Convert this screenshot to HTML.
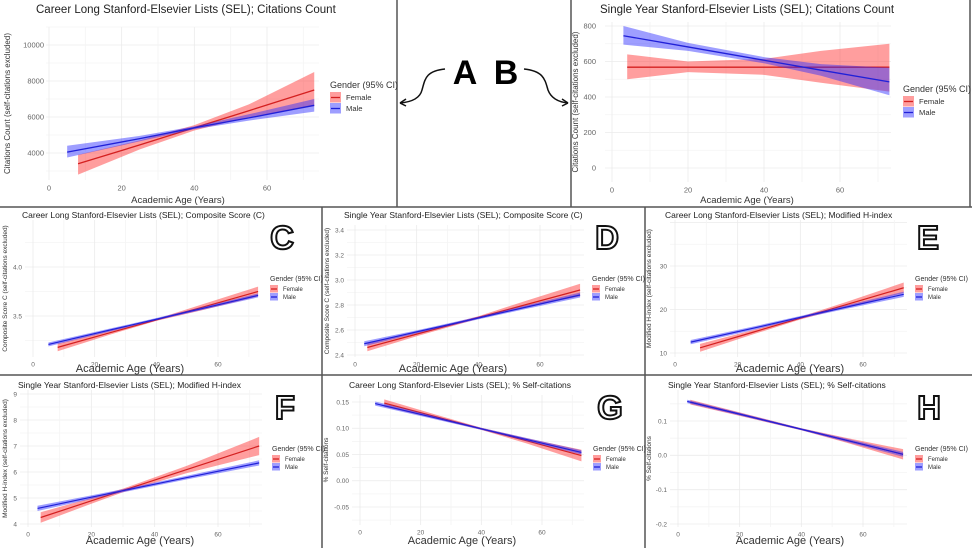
<!DOCTYPE html>
<html><head><meta charset="utf-8"><style>
body{margin:0;background:#fff;}
svg{display:block;font-family:"Liberation Sans",sans-serif;}
</style></head><body>
<svg id="fig" width="972" height="548" viewBox="0 0 972 548">
<g stroke="#555" stroke-width="1.5">
<line x1="397" y1="0" x2="397" y2="207"/><line x1="571" y1="0" x2="571" y2="207"/>
<line x1="0" y1="207" x2="972" y2="207"/><line x1="0" y1="375" x2="972" y2="375"/>
<line x1="322" y1="207" x2="322" y2="548"/><line x1="645" y1="207" x2="645" y2="548"/>
<line x1="970" y1="0" x2="970" y2="207"/>
</g>
<g>
<text x="465" y="84" font-size="34" font-weight="bold" text-anchor="middle">A</text>
<text x="506" y="84" font-size="34" font-weight="bold" text-anchor="middle">B</text>
<path d="M445,69 C425,71 425,80 422,90 C420,98 412,102 400,103" fill="none" stroke="#111" stroke-width="1.5"/>
<path d="M400,103 l6,-4 M400,103 l6,3" stroke="#111" stroke-width="1.5"/>
<path d="M524,69 C544,71 545,80 548,90 C551,98 558,102 568,103" fill="none" stroke="#111" stroke-width="1.5"/>
<path d="M568,103 l-6,-4 M568,103 l-6,3" stroke="#111" stroke-width="1.5"/>
</g>
<g id="panels"></g>
</svg>
<script>
// ---- data (one set of arrays per panel) ----
const ticksX=[0,20,40,60];
const A_yTicks=[4000,6000,8000,10000];
const A_fAge=[8,25,40,55,73]; const A_fFit=[3400,4450,5400,6350,7500]; const A_fLo=[2800,4200,5250,6000,6600]; const A_fHi=[3900,4700,5550,6700,8500];
const A_mAge=[5,25,40,55,73]; const A_mFit=[4050,4800,5400,5950,6650]; const A_mLo=[3750,4650,5320,5800,6300]; const A_mHi=[4400,4950,5480,6150,7000];
const B_yTicks=[0,200,400,600,800];
const B_fAge=[4,20,40,55,73]; const B_fFit=[568,568,568,568,568]; const B_fLo=[500,540,525,480,430]; const B_fHi=[640,600,615,660,700];
const B_mAge=[3,20,40,55,73]; const B_mFit=[745,682,607,551,485]; const B_mLo=[695,660,590,520,410]; const B_mHi=[800,705,625,585,565];
const C_yTicks=[3.5,4.0];
const C_fAge=[8,25,40,55,73]; const C_fFit=[3.18,3.33,3.46,3.59,3.75]; const C_fLo=[3.14,3.31,3.45,3.56,3.70]; const C_fHi=[3.22,3.35,3.47,3.62,3.80];
const C_mAge=[5,25,40,55,73]; const C_mFit=[3.21,3.357,3.467,3.577,3.71]; const C_mLo=[3.19,3.342,3.455,3.562,3.69]; const C_mHi=[3.23,3.372,3.479,3.592,3.73];
const D_yTicks=[2.4,2.6,2.8,3.0,3.2,3.4];
const D_fAge=[4,20,40,55,73]; const D_fFit=[2.46,2.567,2.70,2.80,2.92]; const D_fLo=[2.43,2.55,2.69,2.78,2.87]; const D_fHi=[2.49,2.58,2.71,2.83,2.97];
const D_mAge=[3,20,40,55,73]; const D_mFit=[2.49,2.585,2.696,2.78,2.88]; const D_mLo=[2.47,2.573,2.685,2.766,2.86]; const D_mHi=[2.51,2.597,2.707,2.794,2.90];
const E_yTicks=[10,20,30];
const E_fAge=[8,25,40,55,73]; const E_fFit=[11.2,14.8,18.0,21.2,25.0]; const E_fLo=[10.3,14.3,17.7,20.6,23.8]; const E_fHi=[12.1,15.3,18.3,21.8,26.2];
const E_mAge=[5,25,40,55,73]; const E_mFit=[12.5,15.7,18.2,20.6,23.5]; const E_mLo=[12.0,15.3,17.9,20.2,22.9]; const E_mHi=[13.0,16.1,18.5,21.0,24.1];
const F_yTicks=[4,5,6,7,8,9];
const F_fAge=[4,20,30,50,73]; const F_fFit=[4.25,4.89,5.29,6.09,7.0]; const F_fLo=[4.05,4.78,5.22,5.95,6.65]; const F_fHi=[4.45,5.0,5.36,6.23,7.35];
const F_mAge=[3,20,30,50,73]; const F_mFit=[4.6,5.03,5.28,5.78,6.35]; const F_mLo=[4.5,4.96,5.22,5.71,6.25]; const F_mHi=[4.7,5.1,5.34,5.85,6.45];
const G_yTicks=[-0.05,0.00,0.05,0.10,0.15];
const G_fAge=[8,25,40,55,73]; const G_fFit=[0.148,0.122,0.099,0.076,0.048]; const G_fLo=[0.141,0.118,0.097,0.071,0.037]; const G_fHi=[0.155,0.126,0.101,0.081,0.059];
const G_mAge=[5,25,40,55,73]; const G_mFit=[0.147,0.1196,0.099,0.0785,0.054]; const G_mLo=[0.143,0.1166,0.097,0.0755,0.050]; const G_mHi=[0.151,0.1226,0.101,0.0815,0.058];
const H_yTicks=[-0.2,-0.1,0.0,0.1];
const H_fAge=[4,20,40,55,73]; const H_fFit=[0.155,0.120,0.076,0.043,0.003]; const H_fLo=[0.148,0.115,0.073,0.036,-0.012]; const H_fHi=[0.162,0.125,0.079,0.050,0.018];
const H_mAge=[3,20,40,55,73]; const H_mFit=[0.157,0.120,0.076,0.043,0.003]; const H_mLo=[0.152,0.116,0.073,0.038,-0.004]; const H_mHi=[0.162,0.124,0.079,0.048,0.010];

const NS="http://www.w3.org/2000/svg";
function mk(tag,attrs,parent){const e=document.createElementNS(NS,tag);for(const k in attrs)e.setAttribute(k,attrs[k]);parent.appendChild(e);return e;}

const panels=[
 {id:'a',title:'Career Long Stanford-Elsevier Lists (SEL); Citations Count',ylab:'Citations Count (self-citations excluded)',big:true,
  L:46,R:319,T:27,B:180,x0:49,x60:267,ya:4000,ypa:153,yb:10000,ypb:45,yTicks:A_yTicks,fmt:v=>v,tkx:44,
  tx:36,ty:13,xl:178,xly:203,tlx:10,lgx:330,lgy:88,
  f:[A_fAge,A_fFit,A_fLo,A_fHi],m:[A_mAge,A_mFit,A_mLo,A_mHi]},
 {id:'b',title:'Single Year Stanford-Elsevier Lists (SEL); Citations Count',ylab:'Citations Count (self-citations excluded)',big:true,
  L:605,R:891,T:22,B:182,x0:612,x60:840,ya:0,ypa:168,yb:800,ypb:26,yTicks:B_yTicks,fmt:v=>v,tkx:596,
  tx:600,ty:13,xl:747,xly:203,tlx:578,lgx:903,lgy:92,
  f:[B_fAge,B_fFit,B_fLo,B_fHi],m:[B_mAge,B_mFit,B_mLo,B_mHi]},
 {id:'c',letter:'C',title:'Career Long Stanford-Elsevier Lists (SEL); Composite Score (C)',ylab:'Composite Score C (self-citations excluded)',
  L:25,R:260,T:220,B:357,x0:33,x60:218,ya:3.5,ypa:316,yb:4.0,ypb:267,yTicks:C_yTicks,fmt:v=>v.toFixed(1),
  tx:22,ty:218,xl:130,xly:372,tlx:7,lgx:270,lgy:281,lx:282,ly:249,
  f:[C_fAge,C_fFit,C_fLo,C_fHi],m:[C_mAge,C_mFit,C_mLo,C_mHi]},
 {id:'d',letter:'D',title:'Single Year Stanford-Elsevier Lists (SEL); Composite Score (C)',ylab:'Composite Score C (self-citations excluded)',
  L:347,R:584,T:225,B:357,x0:355,x60:540,ya:2.4,ypa:355,yb:3.4,ypb:230,yTicks:D_yTicks,fmt:v=>v.toFixed(1),
  tx:344,ty:218,xl:453,xly:372,tlx:329,lgx:592,lgy:281,lx:607,ly:249,
  f:[D_fAge,D_fFit,D_fLo,D_fHi],m:[D_mAge,D_mFit,D_mLo,D_mHi]},
 {id:'e',letter:'E',title:'Career Long Stanford-Elsevier Lists (SEL); Modified H-index',ylab:'Modified H-index (self-citations excluded)',
  L:670,R:907,T:220,B:357,x0:675,x60:863,ya:10,ypa:353,yb:30,ypb:266,yTicks:E_yTicks,fmt:v=>v,
  tx:665,ty:218,xl:790,xly:372,tlx:651,lgx:915,lgy:281,lx:928,ly:249,
  f:[E_fAge,E_fFit,E_fLo,E_fHi],m:[E_mAge,E_mFit,E_mLo,E_mHi]},
 {id:'f',letter:'F',title:'Single Year Stanford-Elsevier Lists (SEL); Modified H-index',ylab:'Modified H-index (self-citations excluded)',
  L:20,R:262,T:390,B:527,x0:28,x60:218,ya:4,ypa:524,yb:9,ypb:394,yTicks:F_yTicks,fmt:v=>v,
  tx:18,ty:388,xl:140,xly:544,tlx:7,lgx:272,lgy:451,lx:285,ly:419,
  f:[F_fAge,F_fFit,F_fLo,F_fHi],m:[F_mAge,F_mFit,F_mLo,F_mHi]},
 {id:'g',letter:'G',title:'Career Long Stanford-Elsevier Lists (SEL); % Self-citations',ylab:'% Self-citations',
  L:352,R:584,T:395,B:525,x0:360,x60:542,ya:-0.05,ypa:507,yb:0.15,ypb:402,yTicks:G_yTicks,fmt:v=>v.toFixed(2),
  tx:349,ty:388,xl:462,xly:544,tlx:328,lgx:593,lgy:451,lx:610,ly:419,
  f:[G_fAge,G_fFit,G_fLo,G_fHi],m:[G_mAge,G_mFit,G_mLo,G_mHi]},
 {id:'h',letter:'H',title:'Single Year Stanford-Elsevier Lists (SEL); % Self-citations',ylab:'% Self-citations',
  L:670,R:907,T:390,B:527,x0:678,x60:863,ya:-0.2,ypa:524,yb:0.1,ypb:421,yTicks:H_yTicks,fmt:v=>v.toFixed(1),
  tx:668,ty:388,xl:790,xly:544,tlx:651,lgx:915,lgy:451,lx:929,ly:419,
  f:[H_fAge,H_fFit,H_fLo,H_fHi],m:[H_mAge,H_mFit,H_mLo,H_mHi]}
];

const root=document.getElementById('panels');
panels.forEach(p=>{
  const g=mk('g',{},root);
  
  
  const xs=a=>p.x0+(a-0)*(p.x60-p.x0)/60;
  const ys=v=>p.ypa+(v-p.ya)*(p.ypb-p.ypa)/(p.yb-p.ya);
  const fs=p.big?7.5:6.5;
  const tkx=p.tkx!==undefined?p.tkx:p.L-3;
  const dy=p.yTicks[1]-p.yTicks[0];
  for(let i=-1;i<p.yTicks.length+1;i++){
    const v=p.yTicks[0]+i*dy; const vm=v+dy/2;
    [[v,'#ebebeb'],[vm,'#f4f4f4']].forEach(([val,c])=>{const y=ys(val); if(y>=p.T&&y<=p.B) mk('line',{x1:p.L,x2:p.R,y1:y,y2:y,stroke:c,'stroke-width':0.8},g);});
  }
  for(let a=-10;a<=80;a+=10){const x=xs(a); if(x>=p.L&&x<=p.R) mk('line',{x1:x,x2:x,y1:p.T,y2:p.B,stroke:a%20==0?'#ebebeb':'#f4f4f4','stroke-width':0.8},g);}
  p.yTicks.forEach(v=>{const t=mk('text',{x:tkx,y:ys(v)+fs*0.35,'font-size':fs,fill:'#666','text-anchor':'end'},g);t.textContent=p.fmt(v);
    
    });
  ticksX.forEach(a=>{const t=mk('text',{x:xs(a),y:p.B+fs+3,'font-size':fs,fill:'#666','text-anchor':'middle'},g);t.textContent=a;
    
    });
  [['f',p.f,'rgba(255,40,40,0.45)','#d42020','female'],['m',p.m,'rgba(40,40,255,0.45)','#2020d8','male']].forEach(([k,s,fill,stroke,nm])=>{
    const [age,fit,lo,hi]=s;
    let pts=age.map((a,i)=>xs(a)+','+ys(hi[i]));
    pts=pts.concat(age.map((a,i)=>xs(a)+','+ys(lo[i])).reverse());
    const band=mk('polygon',{points:pts.join(' '),fill:fill},g);
    
    
    const ln=mk('polyline',{points:age.map((a,i)=>xs(a)+','+ys(fit[i])).join(' '),fill:'none',stroke:stroke,'stroke-width':p.big?1.3:1.2},g);
    
    
  });
  const t=mk('text',{x:p.tx,y:p.ty,'font-size':p.big?11.5:8.5,fill:'#222'},g);t.textContent=p.title;
  
  
  const cy=(p.T+p.B)/2;
  const yl=mk('text',{x:p.tlx,y:cy,'font-size':p.big?8:6.5,fill:'#333','text-anchor':'middle',transform:`rotate(-90 ${p.tlx} ${cy})`},g);yl.textContent=p.ylab;
  
  
  const xl=mk('text',{x:p.xl,y:p.xly,'font-size':p.big?9.5:11,fill:'#333','text-anchor':'middle'},g);xl.textContent='Academic Age (Years)';
  
  
  const lg=mk('g',{},g);
  
  
  const lf=p.big?9:7, ks=p.big?11:8;
  const lt=mk('text',{x:p.lgx,y:p.lgy,'font-size':lf,fill:'#333'},lg);lt.textContent='Gender (95% CI)';
  [['Female','rgba(255,40,40,0.45)','#d42020'],['Male','rgba(40,40,255,0.45)','#2020d8']].forEach(([n,f,s],i)=>{
    const y=p.lgy+4+i*(ks);
    const e=mk('g',{},lg);
    
    
    mk('rect',{x:p.lgx,y:y,width:ks,height:ks-0.5,fill:f},e);
    mk('line',{x1:p.lgx+1,x2:p.lgx+ks-1,y1:y+ks/2,y2:y+ks/2,stroke:s,'stroke-width':1.3},e);
    const tx=mk('text',{x:p.lgx+ks+5,y:y+ks*0.72,'font-size':lf*0.85,fill:'#333'},e);tx.textContent=n;
  });
  if(p.letter){
    const L=mk('text',{x:p.lx,y:p.ly,'font-size':33,fill:'#fff',stroke:'#111','stroke-width':2,'text-anchor':'middle','font-weight':'bold'},g);L.textContent=p.letter;
    
    
  }
});
</script>
</body></html>
